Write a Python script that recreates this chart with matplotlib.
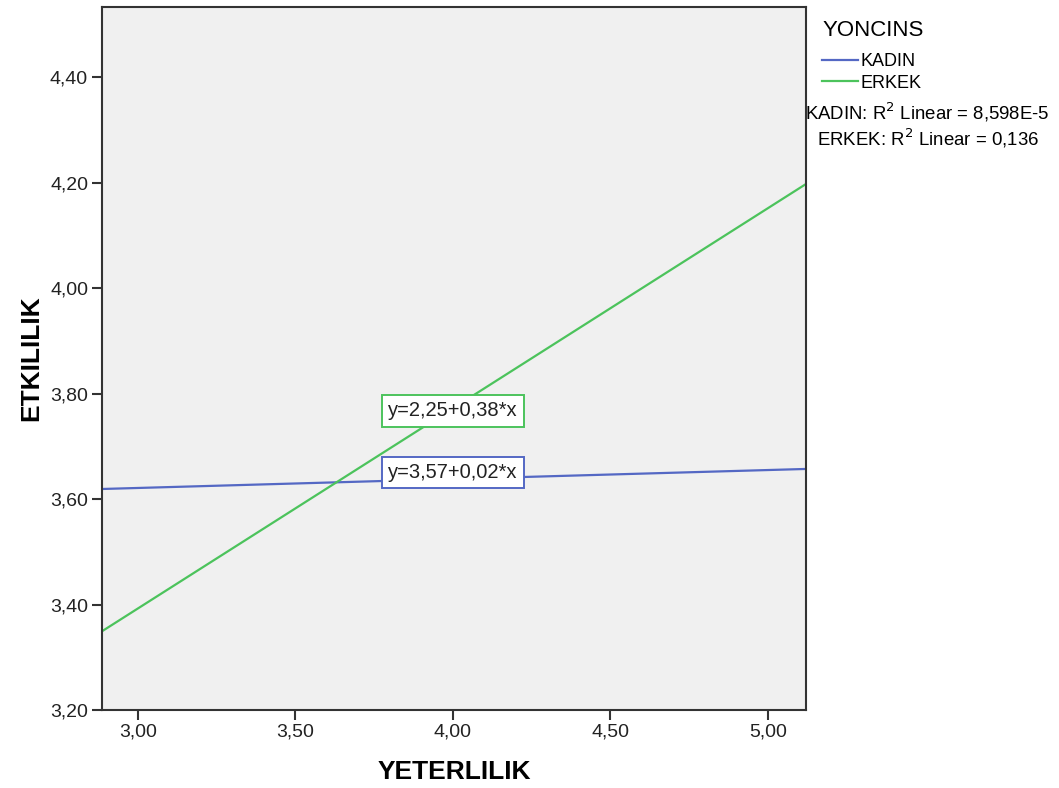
import matplotlib
matplotlib.use('Agg')
import matplotlib.pyplot as plt
import numpy as np

plt.rcParams['font.family'] = ['Liberation Sans', 'DejaVu Sans']

# Fit lines per group: intercept and slope of the linear fit
groups = ['KADIN', 'ERKEK']
intercepts = [3.570, 2.254]
slopes = [0.017, 0.3795]
r2_labels = ['8,598E-5', '0,136']
colors = ['#5468c4', '#4cc35c']

# Where the equation boxes sit (x, y in data units)
box_x = [4.00, 4.00]
box_y = [3.651, 3.767]

x_range = [2.886, 5.121]
y_range = [3.20, 4.533]
x_ticks = [3.0, 3.5, 4.0, 4.5, 5.0]
y_ticks = [3.2, 3.4, 3.6, 3.8, 4.0, 4.2, 4.4]


def comma(v, fmt):
    return format(v, fmt).replace('.', ',')


def main():
    fig = plt.figure(figsize=(10.59, 7.88), dpi=100)
    ax = fig.add_axes([0.0963, 0.0990, 0.6648, 0.8921])
    ax.set_facecolor('#f0f0f0')

    xs = np.array(x_range)
    for name, b0, b1, c in zip(groups, intercepts, slopes, colors):
        ax.plot(xs, b0 + b1 * xs, color=c, linewidth=1.6, label=name)

    for b0, b1, c, bx, by in zip(intercepts, slopes, colors, box_x, box_y):
        ax.text(bx, by, f"y={comma(b0, '.2f')}+{comma(b1, '.2f')}*x",
                ha='center', va='center', fontsize=14.5, color='#222222',
                bbox=dict(boxstyle='square,pad=0.3', facecolor='white',
                          edgecolor=c, linewidth=1.4))

    ax.set_xlim(x_range)
    ax.set_ylim(y_range)
    ax.set_xticks(x_ticks)
    ax.set_yticks(y_ticks)
    ax.set_xticklabels([comma(t, '.2f') for t in x_ticks])
    ax.set_yticklabels([comma(t, '.2f') for t in y_ticks])
    ax.tick_params(length=7, width=1.5, labelsize=14, colors='#333333',
                   labelcolor='#222222', pad=3)
    for sp in ax.spines.values():
        sp.set_linewidth(1.5)
        sp.set_color('#333333')

    ax.set_xlabel('YETERLILIK', fontsize=19, fontweight='bold', labelpad=14)
    ax.set_ylabel('ETKILILIK', fontsize=19, fontweight='bold', labelpad=5)

    leg = ax.legend(title='YONCINS', loc='upper left', bbox_to_anchor=(1.005, 1.0),
                    frameon=False, fontsize=13, title_fontsize=16,
                    handlelength=2.0, handletextpad=0.1, labelspacing=0.25,
                    borderpad=0.2)
    leg._legend_box.align = 'left'
    leg._legend_box.sep = 9

    r2_text = [f'{g}: R$^2$ Linear = {r}' for g, r in zip(groups, r2_labels)]
    fig.text(0.876, 1 - 112 / 788, r2_text[0], ha='center', va='center', fontsize=13.4)
    fig.text(0.876, 1 - 138 / 788, r2_text[1], ha='center', va='center', fontsize=13.4)

    plt.savefig('out.png', dpi=100)
    plt.close()


if __name__ == '__main__':
    main()
